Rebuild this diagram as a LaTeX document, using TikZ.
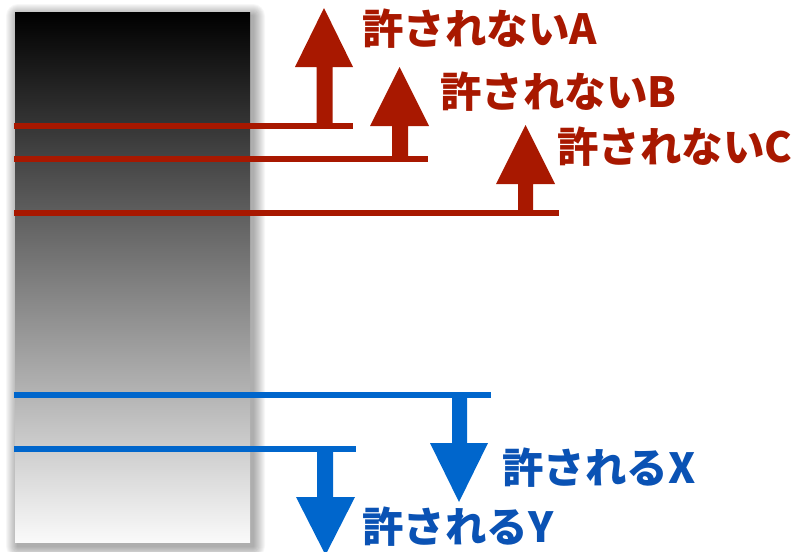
\documentclass[tikz,border=0pt]{standalone}
\usepackage{fontspec}
\newfontfamily\jp{Noto Sans CJK JP}
\definecolor{nored}{HTML}{A81800}
\definecolor{okblue}{HTML}{0066CC}
\definecolor{okbluetext}{HTML}{0A52B4}
\begin{document}
\begin{tikzpicture}[x=1pt,y=-1pt,
  lbl/.style={anchor=west,inner sep=0pt,font=\jp\bfseries\fontsize{41.5}{42}\selectfont},
  redlbl/.style={lbl,text=nored},
  bluelbl/.style={lbl,text=okbluetext},
  redline/.style={draw=nored,line width=6pt},
  blueline/.style={draw=okblue,line width=6pt},
  redarrow/.style={fill=nored},
  bluearrow/.style={fill=okblue},
]
\useasboundingbox (0,0) rectangle (796,552);
% shadow
\foreach \i in {1,...,12}
  \fill[black,opacity=0.03,rounded corners=\i*1pt] (15+3-\i,12+4-\i) rectangle (250+3+\i,542+4+\i);
% bar
\node[name=bar,minimum width=235pt,minimum height=530pt,inner sep=0pt,top color=black,bottom color=gray!4,anchor=north west] at (15,12) {};
% red lines
\coordinate (a1) at (14,125.5); \coordinate (a2) at (353,125.5);
\coordinate (b1) at (14,158.5); \coordinate (b2) at (428,158.5);
\coordinate (c1) at (14,213);   \coordinate (c2) at (559,213);
\draw[redline] (a1) -- (a2);
\draw[redline] (b1) -- (b2);
\draw[redline] (c1) -- (c2);
% red arrows
\fill[redarrow] (316.5,126) -- (316.5,67) -- (295,67) -- (324,8) -- (353,67) -- (332.5,67) -- (332.5,126) -- cycle;
\fill[redarrow] (392,159) -- (392,126) -- (370,126) -- (399.5,67) -- (429,126) -- (408,126) -- (408,159) -- cycle;
\fill[redarrow] (518,213) -- (518,184) -- (496,184) -- (525.5,125) -- (555,184) -- (533,184) -- (533,213) -- cycle;
% blue lines
\coordinate (x1) at (14,394.5); \coordinate (x2) at (491,394.5);
\coordinate (y1) at (14,449);   \coordinate (y2) at (356,449);
\draw[blueline] (x1) -- (x2);
\draw[blueline] (y1) -- (y2);
% blue arrows
\fill[bluearrow] (452,394) -- (452,443) -- (430,443) -- (459,502) -- (488,443) -- (467,443) -- (467,394) -- cycle;
\fill[bluearrow] (317,449) -- (317,497) -- (296,497) -- (325.5,555) -- (355,497) -- (333,497) -- (333,449) -- cycle;
% labels
\node[redlbl] (ta) at (362,29) {許されないA};
\node[redlbl] (tb) at (440,92) {許されないB};
\node[redlbl] (tc) at (557,147) {許されないC};
\node[bluelbl] (tx) at (502,468) {許されるX};
\node[bluelbl] (ty) at (362,527) {許されるY};
\end{tikzpicture}
\end{document}
